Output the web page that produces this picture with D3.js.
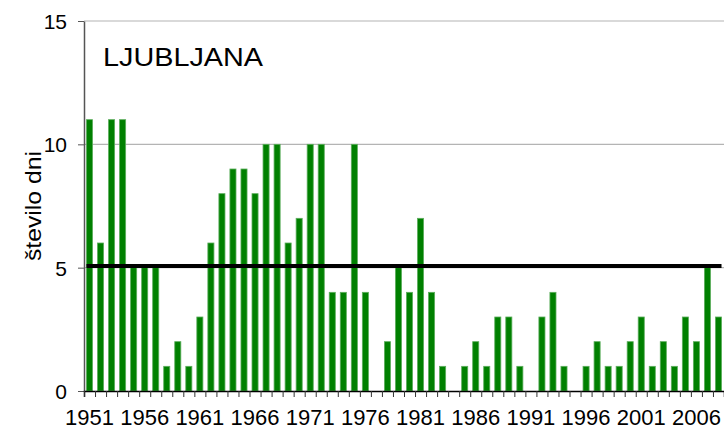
<!DOCTYPE html>
<html>
<head>
<meta charset="utf-8">
<script src="https://cdn.jsdelivr.net/npm/d3@7"></script>
<style>
  html, body { margin: 0; padding: 0; background: #fff; }
  svg { display: block; font-family: 'Liberation Sans', Arial, sans-serif; }
</style>
</head>
<body>
<div id="chart"></div>
<script>
const years = d3.range(1951, 2009)
const days = [
  11, 6, 11, 11, 5, 5, 5, 1, 2, 1,
  3, 6, 8, 9, 9, 8, 10, 10, 6, 7,
  10, 10, 4, 4, 10, 4, 0, 2, 5, 4,
  7, 4, 1, 0, 1, 2, 1, 3, 3, 1,
  0, 3, 4, 1, 0, 1, 2, 1, 1, 2,
  3, 1, 2, 1, 3, 2, 5, 3
]
const yTicks = [0, 5, 10, 15]
const labelYears = d3.range(1951, 2007, 5)
const normal = 5.07 // povprečje 1961-1990
const station = 'LJUBLJANA'
const yTitle = 'število dni'

const width = 724
const height = 430
const marginTop = 21
const marginRight = 0
const marginBottom = 39
const marginLeft = 84

const x = d3.scaleBand()
  .domain(years)
  .range([marginLeft, width - marginRight])
  .paddingInner(0.45)
  .paddingOuter(0.225)

const xEdge = d3.scaleLinear()
  .domain([0, years.length])
  .range([marginLeft, width - marginRight])

const y = d3.scaleLinear()
  .domain([0, 15])
  .range([height - marginBottom, marginTop])

const svg = d3.select('#chart').append('svg')
  .attr('width', width)
  .attr('height', height)
  .attr('viewBox', [0, 0, width, height])

// mreža
svg.append('g')
  .selectAll('line')
  .data(yTicks.filter(d => d > 0))
  .join('line')
  .attr('x1', marginLeft)
  .attr('x2', width)
  .attr('y1', d => y(d))
  .attr('y2', d => y(d))
  .attr('stroke', '#b4b4b4')
  .attr('stroke-width', 1.2)

// stolpci
svg.append('g')
  .selectAll('rect')
  .data(years.map((yr, i) => [yr, days[i]]).filter(d => d[1] > 0))
  .join('rect')
  .attr('x', d => x(d[0]))
  .attr('width', x.bandwidth())
  .attr('y', d => y(d[1]))
  .attr('height', d => y(0) - y(d[1]))
  .attr('fill', '#008000')
  .attr('stroke', '#5cad5c')
  .attr('stroke-width', 0.8)

// os y
svg.append('g')
  .attr('transform', `translate(${marginLeft},0)`)
  .call(d3.axisLeft(y).tickValues(yTicks).tickSize(6).tickPadding(11).tickSizeOuter(0))
  .attr('font-family', 'inherit')
  .attr('font-size', 21)
  .call(g => g.select('.domain').attr('stroke', '#555').attr('stroke-width', 1.5))
  .call(g => g.selectAll('.tick line').attr('stroke', '#555'))
  .call(g => g.selectAll('.tick text').attr('fill', '#000').attr('dy', '0.35em'))

// os x - oznake
svg.append('g')
  .attr('transform', `translate(0,${height - marginBottom})`)
  .call(d3.axisBottom(xEdge).tickValues(d3.range(0, years.length + 1)).tickSize(6).tickFormat(''))
  .call(g => g.select('.domain').attr('stroke', '#000').attr('stroke-width', 1.5))
  .call(g => g.selectAll('.tick line').attr('stroke', '#333'))

svg.append('g')
  .selectAll('text')
  .data(labelYears)
  .join('text')
  .attr('x', d => x(d) + x.bandwidth() / 2)
  .attr('y', 425)
  .attr('text-anchor', 'middle')
  .attr('font-size', 22)
  .text(d => d)

// povprečje
svg.append('line')
  .attr('x1', x(years[0]))
  .attr('x2', x(years[years.length - 1]) + x.bandwidth())
  .attr('y1', y(normal))
  .attr('y2', y(normal))
  .attr('stroke', '#000')
  .attr('stroke-width', 4)

// naslovi
svg.append('text')
  .attr('x', 103)
  .attr('y', 66)
  .attr('font-size', 26)
  .attr('textLength', 160)
  .attr('lengthAdjust', 'spacingAndGlyphs')
  .text(station)

svg.append('text')
  .attr('transform', `translate(41,206) rotate(-90)`)
  .attr('text-anchor', 'middle')
  .attr('font-size', 22)
  .attr('textLength', 110)
  .attr('lengthAdjust', 'spacingAndGlyphs')
  .text(yTitle)
</script>
</body>
</html>
